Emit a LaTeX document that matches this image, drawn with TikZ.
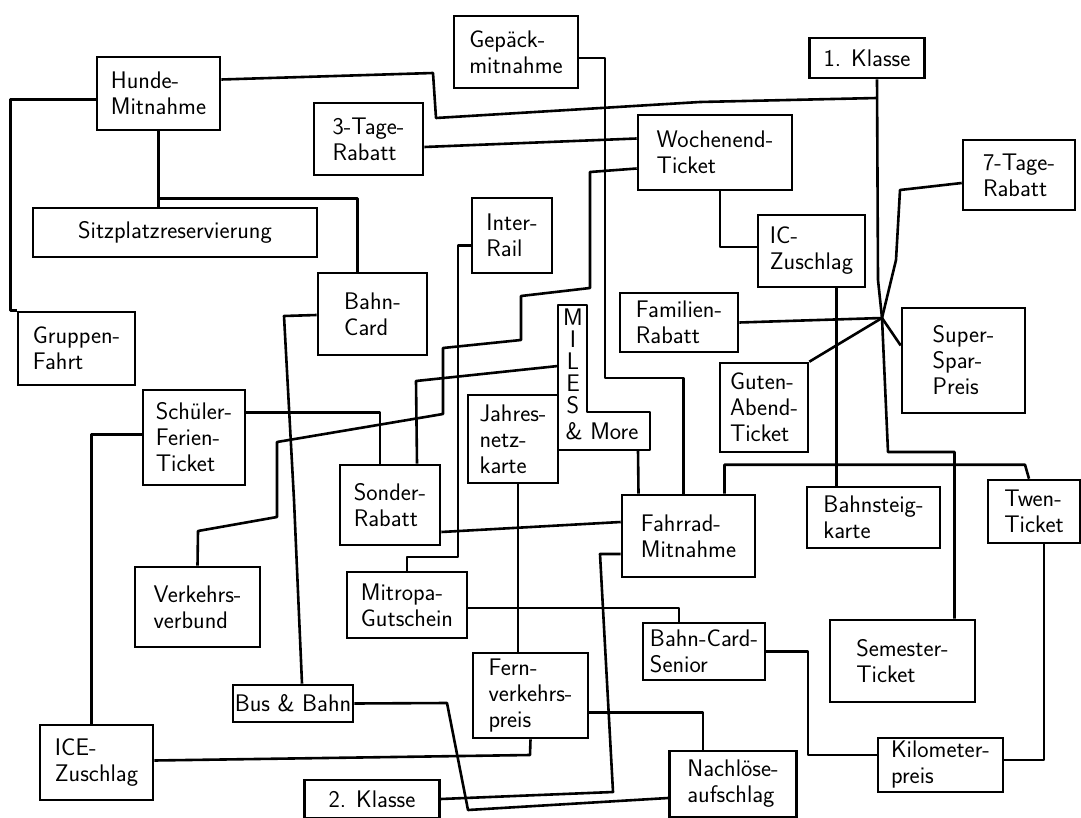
\documentclass[tikz,border=0pt]{standalone}
\usetikzlibrary{calc}

\begin{document}
\begin{tikzpicture}[x=1pt, y=-1pt,
  boxtext/.style={inner sep=0pt, align=left, font=\fontsize{24}{26}\selectfont\sffamily},
  box/.style={boxtext, draw, line width=2.6pt},
  link/.style={line width=2.6pt, line join=round}]

\fill[white] (0,0) rectangle (1081,818);
\useasboundingbox (0,0) rectangle (1081,818);

\node[box, minimum width=123, minimum height=73] (hunde) at (158.5,93.5) {Hunde-\\Mitnahme};
\node[box, minimum width=124, minimum height=72] (gepaeck) at (516,52) {Gepäck-\\mitnahme};
\node[box, minimum width=115, minimum height=40] (klasseI) at (867,58) {1. Klasse};
\node[box, minimum width=109, minimum height=72] (tageIII) at (368.5,139) {3-Tage-\\Rabatt};
\node[box, minimum width=154, minimum height=75] (wochenend) at (715,152.5) {Wochenend-\\Ticket};
\node[box, minimum width=112, minimum height=70] (tageVII) at (1019,175) {7-Tage-\\Rabatt};
\node[box, minimum width=284, minimum height=49] (sitz) at (175,232.5) {Sitzplatzreservierung};
\node[box, minimum width=80, minimum height=75] (interrail) at (512,235.5) {Inter-\\Rail};
\node[box, minimum width=107, minimum height=72] (ic) at (811.5,251) {IC-\\Zuschlag};
\node[box, minimum width=109, minimum height=82] (bahncard) at (372.5,314) {Bahn-\\Card};
\node[box, minimum width=117, minimum height=73] (gruppen) at (76.5,348.5) {Gruppen-\\Fahrt};
\node[box, minimum width=118, minimum height=59] (familien) at (679,322.5) {Familien-\\Rabatt};
\node[box, minimum width=123, minimum height=105] (superspar) at (963.5,360.5) {Super-\\Spar-\\Preis};
\node[box, minimum width=88, minimum height=89] (gutenabend) at (764,407.5) {Guten-\\Abend-\\Ticket};
\node[box, minimum width=102, minimum height=95] (schueler) at (194,437.5) {Schüler-\\Ferien-\\Ticket};
\node[box, minimum width=90, minimum height=88] (jahres) at (513,439) {Jahres-\\netz-\\karte};
\node[box, minimum width=100, minimum height=80] (sonder) at (390,505) {Sonder-\\Rabatt};
\node[box, minimum width=133, minimum height=82] (fahrrad) at (688.5,536) {Fahrrad-\\Mitnahme};
\node[box, minimum width=133, minimum height=61] (bahnsteig) at (873.5,517.5) {Bahnsteig-\\karte};
\node[box, minimum width=92, minimum height=63] (twen) at (1034,511.5) {Twen-\\Ticket};
\node[box, minimum width=125, minimum height=80] (verkehr) at (197.5,607) {Verkehrs-\\verbund};
\node[box, minimum width=120, minimum height=66] (mitropa) at (407,605) {Mitropa-\\Gutschein};
\node[box, minimum width=122, minimum height=57] (senior) at (704,651.5) {Bahn-Card-\\Senior};
\node[box, minimum width=145, minimum height=82] (semester) at (902.5,661) {Semester-\\Ticket};
\node[box, minimum width=120, minimum height=37] (busbahn) at (293,703.5) {Bus \& Bahn};
\node[box, minimum width=115, minimum height=85] (fern) at (530.5,695.5) {Fern-\\verkehrs-\\preis};
\node[box, minimum width=113, minimum height=75] (ice) at (96.5,762.5) {ICE-\\Zuschlag};
\node[box, minimum width=125, minimum height=54] (kilometer) at (940.5,765) {Kilometer-\\preis};
\node[box, minimum width=127, minimum height=66] (nachloese) at (733,784) {Nachlöse-\\aufschlag};
\node[box, minimum width=135, minimum height=38] (klasseII) at (372,799) {2. Klasse};

% Miles & More
\draw[link] (558,305) -- (587,305) -- (587,412) -- (650,412) -- (650,450) -- (558,450) -- cycle;
\node[boxtext, align=center, font=\fontsize{24}{22}\selectfont\sffamily] (milesv) at (573,361) {M\\I\\L\\E\\S};
\node[boxtext] (milesh) at (602,431) {\& More};
\coordinate (milesW) at (558,366);
\coordinate (milesS) at (638,450);

\coordinate (hub) at (882,318);
\coordinate (kjoin) at (877,98);
\coordinate (hsplit) at ($(hunde.south)+(0,67)$);

% Hunde-Mitnahme
\draw[link] ($(hunde.west)+(0,6)$) -| ($(gruppen.north west)+(-6,0)$) -- (gruppen.north west);
\draw[link] (hunde.south) -- (hunde.south |- sitz.north);
\draw[link] (hsplit) -| ($(bahncard.north)+(-15,0)$);
\draw[link] ($(hunde.east)+(0,-14)$) -- (433,73) -- (436,118) -- (700,102) -- (kjoin);

% hub
\draw[link] ($(klasseI.south)+(10,0)$) -- (878,280) -- (hub);
\draw[link] ($(tageVII.west)+(0,8)$) -- (900,190) -- (896,260) -- (hub);
\draw[link] (familien.east) -- (hub);
\draw[link] (gutenabend.north east) -- (hub);
\draw[link] (hub) -- ($(superspar.west)+(0,-15)$);
\draw[link] (hub) -- (888,452) -| ($(semester.north)+(52,0)$);

% Wochenend-Ticket
\draw[link] ($(tageIII.east)+(0,8)$) -- ($(wochenend.west)+(0,-14)$);
\draw[link] ($(wochenend.south)+(5,0)$) |- ($(ic.west)+(0,-4)$);
\draw[link] ($(wochenend.west)+(0,16)$) -- (590,172) -- (590,288) -- (521,296) -- (521,340)
  -- (443,348) -- (443,414) -- (277,442) -- (277,517) -- (198,531) -- (verkehr.north);
\draw[link] ($(ic.south)+(25,0)$) -- ($(bahnsteig.north)+(-37,0)$);

% Gepaeck, Miles, Twen -> Fahrrad
\draw[link] ($(gepaeck.east)+(0,6)$) -| (605,378) -| ($(fahrrad.north)+(-5,0)$);
\draw[link] (milesS) -- ($(fahrrad.north)+(-50,0)$);
\draw[link] ($(twen.north)+(-5,0)$) -- ++(-4,-14) -| ($(fahrrad.north)+(36,0)$);
\draw[link] (milesW) -- (416,381) -- ($(sonder.north)+(27,0)$);

% left side
\draw[link] ($(bahncard.west)+(0,1)$) -- (284,316) -- (294,500) -- ($(busbahn.north)+(9,0)$);
\draw[link] ($(schueler.east)+(0,-25)$) -| ($(sonder.north)+(-10,0)$);
\draw[link] ($(schueler.west)+(0,-3)$) -| ($(ice.north)+(-5,0)$);
\draw[link] ($(interrail.west)+(0,10)$) -- (458,245.5) -- (458,557) -- (407,557) -- (mitropa.north);

% middle
\draw[link] ($(sonder.east)+(0,27)$) -- ($(fahrrad.west)+(0,-14)$);
\draw[link] ($(jahres.south)+(5,0)$) -- ($(fern.north)+(-12.5,0)$);
\draw[link] ($(fahrrad.west)+(0,18)$) -- (600,554) -- (613,792) -- (klasseII.east);
\draw[link] (busbahn.east) -- (447,703) -- (468,810) -- ($(nachloese.west)+(0,14)$);
\draw[link] ($(fern.east)+(0,17)$) -| ($(nachloese.north)+(-30,0)$);
\draw[link] (fern.south) -- (530,755) -- ($(ice.east)+(0,-2)$);
\draw[link] ($(mitropa.east)+(0,3)$) -| ($(senior.north)+(-25,0)$);

% right side
\draw[link] (senior.east) -| (808,755) -- ($(kilometer.west)+(0,-10)$);
\draw[link] ($(kilometer.east)+(0,-5)$) -| ($(twen.south)+(10,0)$);
\end{tikzpicture}
\end{document}
